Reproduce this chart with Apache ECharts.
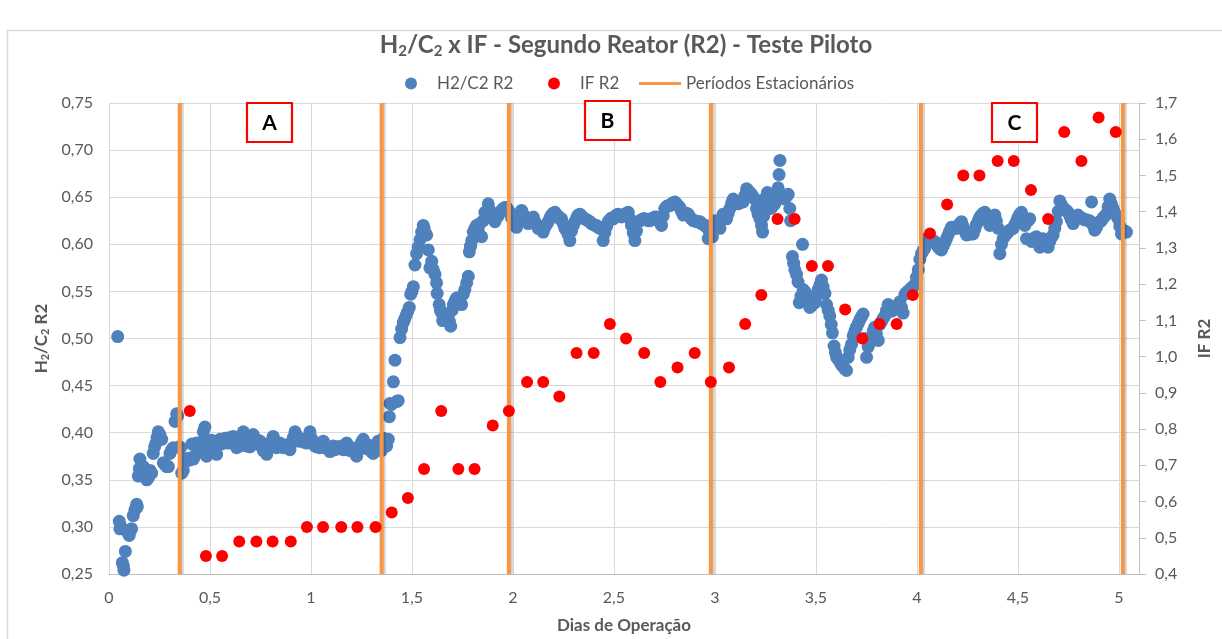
<!DOCTYPE html>
<html><head><meta charset="utf-8">
<script src="https://cdn.jsdelivr.net/npm/echarts@6/dist/echarts.min.js"></script>
<style>html,body{margin:0;padding:0;background:#fff}#c{width:1222px;height:639px}</style>
</head><body><div id="c"></div>
<script>
// H2/C2 R2 (dias, valor)
const h2c2Points = [
[0.043,0.502],[0.051,0.306],[0.054,0.298],[0.060,0.300],[0.066,0.262],[0.071,0.259],[0.074,0.254],[0.081,0.274],[0.090,0.295],[0.100,0.291],
[0.106,0.296],[0.112,0.298],[0.120,0.312],[0.128,0.318],[0.137,0.324],[0.140,0.321],[0.145,0.354],[0.150,0.362],[0.153,0.372],[0.160,0.360],
[0.170,0.364],[0.178,0.355],[0.187,0.350],[0.195,0.352],[0.203,0.360],[0.211,0.357],[0.219,0.378],[0.226,0.385],[0.233,0.389],[0.238,0.395],
[0.244,0.401],[0.252,0.398],[0.261,0.393],[0.269,0.368],[0.277,0.366],[0.286,0.364],[0.294,0.364],[0.302,0.378],[0.310,0.382],[0.318,0.384],
[0.327,0.412],[0.335,0.420],[0.340,0.418],[0.348,0.385],[0.355,0.384],[0.360,0.357],[0.368,0.360],[0.376,0.372],[0.385,0.370],[0.393,0.373],
[0.401,0.371],[0.410,0.388],[0.418,0.372],[0.426,0.376],[0.434,0.389],[0.442,0.385],[0.450,0.383],[0.459,0.390],[0.467,0.401],[0.475,0.406],
[0.479,0.380],[0.483,0.375],[0.490,0.383],[0.500,0.389],[0.508,0.392],[0.516,0.384],[0.524,0.380],[0.533,0.377],[0.541,0.387],[0.550,0.393],
[0.558,0.388],[0.566,0.393],[0.575,0.394],[0.583,0.394],[0.591,0.389],[0.600,0.395],[0.608,0.390],[0.615,0.396],[0.623,0.388],[0.632,0.384],
[0.640,0.390],[0.648,0.386],[0.657,0.395],[0.665,0.401],[0.673,0.393],[0.681,0.386],[0.690,0.389],[0.698,0.385],[0.706,0.396],[0.714,0.398],
[0.722,0.393],[0.731,0.388],[0.739,0.392],[0.748,0.391],[0.756,0.386],[0.764,0.381],[0.773,0.384],[0.781,0.377],[0.789,0.385],[0.797,0.388],
[0.805,0.391],[0.813,0.396],[0.821,0.388],[0.829,0.384],[0.838,0.385],[0.846,0.389],[0.855,0.387],[0.863,0.384],[0.871,0.387],[0.880,0.384],
[0.888,0.387],[0.896,0.382],[0.904,0.390],[0.913,0.395],[0.921,0.401],[0.930,0.397],[0.938,0.391],[0.946,0.393],[0.954,0.392],[0.963,0.390],
[0.971,0.393],[0.979,0.389],[0.987,0.395],[0.995,0.401],[1.003,0.394],[1.011,0.389],[1.019,0.386],[1.028,0.385],[1.036,0.387],[1.044,0.384],
[1.053,0.386],[1.061,0.391],[1.069,0.385],[1.078,0.383],[1.086,0.384],[1.094,0.380],[1.102,0.382],[1.110,0.386],[1.119,0.382],[1.127,0.385],
[1.135,0.384],[1.143,0.383],[1.152,0.386],[1.160,0.382],[1.168,0.384],[1.177,0.389],[1.185,0.385],[1.193,0.381],[1.201,0.384],[1.210,0.383],
[1.218,0.378],[1.226,0.375],[1.234,0.381],[1.242,0.386],[1.251,0.390],[1.259,0.393],[1.267,0.386],[1.275,0.383],[1.284,0.387],[1.292,0.382],
[1.300,0.380],[1.308,0.378],[1.316,0.382],[1.325,0.386],[1.333,0.391],[1.341,0.388],[1.349,0.381],[1.358,0.394],[1.366,0.393],[1.375,0.386],
[1.383,0.393],[1.388,0.417],[1.391,0.431],[1.399,0.430],[1.408,0.454],[1.416,0.477],[1.424,0.433],[1.432,0.434],[1.441,0.501],[1.449,0.510],
[1.457,0.517],[1.463,0.520],[1.470,0.524],[1.478,0.528],[1.487,0.533],[1.494,0.547],[1.500,0.550],[1.507,0.555],[1.515,0.578],[1.523,0.590],
[1.531,0.597],[1.540,0.605],[1.548,0.613],[1.556,0.620],[1.560,0.617],[1.565,0.612],[1.573,0.610],[1.581,0.594],[1.589,0.575],[1.598,0.582],
[1.606,0.573],[1.614,0.568],[1.622,0.559],[1.625,0.548],[1.635,0.536],[1.641,0.530],[1.647,0.527],[1.652,0.519],[1.660,0.523],[1.668,0.520],
[1.680,0.524],[1.686,0.518],[1.692,0.513],[1.699,0.530],[1.705,0.536],[1.713,0.540],[1.721,0.543],[1.729,0.538],[1.738,0.541],[1.746,0.536],
[1.754,0.547],[1.762,0.552],[1.771,0.559],[1.779,0.566],[1.784,0.592],[1.790,0.598],[1.796,0.604],[1.804,0.613],[1.812,0.617],[1.820,0.620],
[1.828,0.614],[1.837,0.622],[1.845,0.608],[1.853,0.625],[1.861,0.634],[1.870,0.630],[1.878,0.643],[1.886,0.636],[1.894,0.630],[1.903,0.628],
[1.911,0.624],[1.919,0.632],[1.927,0.630],[1.936,0.634],[1.944,0.636],[1.952,0.638],[1.960,0.639],[1.969,0.639],[1.977,0.636],[1.985,0.634],
[1.993,0.628],[2.002,0.624],[2.010,0.620],[2.018,0.618],[2.026,0.628],[2.035,0.632],[2.043,0.636],[2.051,0.632],[2.060,0.628],[2.068,0.625],
[2.076,0.622],[2.085,0.626],[2.093,0.628],[2.101,0.629],[2.109,0.624],[2.117,0.621],[2.125,0.617],[2.134,0.619],[2.142,0.615],[2.150,0.613],
[2.158,0.618],[2.167,0.621],[2.175,0.624],[2.183,0.628],[2.191,0.631],[2.200,0.633],[2.208,0.634],[2.216,0.631],[2.224,0.630],[2.233,0.627],
[2.241,0.627],[2.249,0.622],[2.257,0.617],[2.266,0.614],[2.274,0.610],[2.282,0.604],[2.290,0.614],[2.299,0.620],[2.307,0.624],[2.315,0.628],
[2.323,0.631],[2.332,0.632],[2.340,0.630],[2.348,0.628],[2.356,0.627],[2.365,0.626],[2.373,0.625],[2.381,0.624],[2.389,0.622],[2.398,0.621],
[2.406,0.620],[2.414,0.620],[2.422,0.618],[2.431,0.617],[2.439,0.617],[2.447,0.604],[2.455,0.612],[2.464,0.619],[2.472,0.624],[2.480,0.626],
[2.488,0.628],[2.497,0.627],[2.505,0.629],[2.513,0.631],[2.521,0.632],[2.530,0.630],[2.538,0.629],[2.546,0.631],[2.554,0.632],[2.563,0.633],
[2.571,0.634],[2.579,0.627],[2.587,0.620],[2.596,0.612],[2.604,0.604],[2.612,0.614],[2.620,0.624],[2.629,0.625],[2.637,0.626],[2.645,0.627],
[2.653,0.627],[2.661,0.626],[2.670,0.625],[2.678,0.625],[2.686,0.627],[2.694,0.628],[2.703,0.629],[2.711,0.629],[2.719,0.626],[2.728,0.623],
[2.736,0.620],[2.744,0.630],[2.752,0.638],[2.760,0.640],[2.769,0.641],[2.777,0.641],[2.785,0.643],[2.794,0.644],[2.802,0.645],[2.810,0.643],
[2.818,0.641],[2.827,0.639],[2.835,0.635],[2.843,0.631],[2.851,0.632],[2.860,0.633],[2.868,0.632],[2.876,0.629],[2.884,0.627],[2.893,0.625],
[2.901,0.625],[2.909,0.624],[2.917,0.624],[2.926,0.624],[2.934,0.622],[2.942,0.621],[2.950,0.620],[2.959,0.618],[2.967,0.606],[2.975,0.612],
[2.983,0.620],[2.988,0.608],[2.995,0.622],[3.000,0.625],[3.008,0.621],[3.017,0.619],[3.025,0.617],[3.033,0.627],[3.041,0.632],[3.050,0.630],
[3.058,0.627],[3.066,0.633],[3.074,0.638],[3.083,0.644],[3.091,0.648],[3.099,0.645],[3.107,0.644],[3.115,0.643],[3.124,0.645],[3.132,0.645],
[3.140,0.645],[3.149,0.652],[3.157,0.659],[3.165,0.657],[3.173,0.655],[3.182,0.653],[3.190,0.650],[3.198,0.648],[3.206,0.638],[3.214,0.632],
[3.223,0.627],[3.231,0.620],[3.236,0.613],[3.242,0.630],[3.248,0.641],[3.254,0.650],[3.260,0.655],[3.268,0.646],[3.277,0.638],[3.285,0.640],
[3.297,0.643],[3.305,0.650],[3.313,0.660],[3.318,0.674],[3.322,0.689],[3.330,0.653],[3.339,0.650],[3.347,0.648],[3.355,0.651],[3.363,0.653],
[3.371,0.638],[3.375,0.625],[3.384,0.587],[3.390,0.580],[3.396,0.573],[3.404,0.568],[3.412,0.560],[3.418,0.538],[3.426,0.545],[3.434,0.600],
[3.437,0.552],[3.445,0.550],[3.454,0.547],[3.462,0.540],[3.470,0.533],[3.479,0.535],[3.487,0.537],[3.495,0.538],[3.503,0.545],[3.511,0.552],
[3.520,0.557],[3.528,0.562],[3.536,0.555],[3.545,0.548],[3.553,0.536],[3.561,0.530],[3.569,0.524],[3.576,0.515],[3.582,0.506],[3.590,0.492],
[3.597,0.485],[3.603,0.480],[3.611,0.478],[3.619,0.475],[3.627,0.472],[3.635,0.470],[3.643,0.468],[3.652,0.466],[3.660,0.480],[3.668,0.488],
[3.677,0.494],[3.685,0.503],[3.693,0.508],[3.701,0.512],[3.710,0.516],[3.718,0.520],[3.726,0.523],[3.734,0.526],[3.742,0.500],[3.751,0.480],
[3.759,0.491],[3.768,0.496],[3.776,0.501],[3.784,0.508],[3.792,0.512],[3.800,0.505],[3.809,0.498],[3.817,0.515],[3.825,0.518],[3.833,0.521],
[3.842,0.524],[3.850,0.530],[3.858,0.536],[3.866,0.532],[3.875,0.529],[3.883,0.530],[3.891,0.532],[3.899,0.533],[3.907,0.536],[3.916,0.539],
[3.924,0.533],[3.932,0.527],[3.941,0.547],[3.949,0.549],[3.957,0.550],[3.965,0.552],[3.974,0.554],[3.982,0.555],[3.990,0.557],[3.998,0.565],
[4.007,0.573],[4.015,0.584],[4.023,0.590],[4.031,0.593],[4.040,0.596],[4.048,0.606],[4.056,0.606],[4.064,0.605],[4.073,0.604],[4.081,0.603],
[4.089,0.603],[4.097,0.600],[4.106,0.597],[4.114,0.595],[4.122,0.594],[4.130,0.598],[4.139,0.602],[4.147,0.606],[4.155,0.610],[4.163,0.614],
[4.171,0.618],[4.180,0.618],[4.188,0.617],[4.196,0.617],[4.204,0.619],[4.213,0.622],[4.221,0.624],[4.229,0.619],[4.237,0.614],[4.246,0.610],
[4.254,0.611],[4.262,0.611],[4.270,0.611],[4.279,0.611],[4.287,0.616],[4.295,0.621],[4.304,0.625],[4.312,0.629],[4.320,0.631],[4.328,0.633],
[4.337,0.634],[4.345,0.629],[4.353,0.625],[4.361,0.620],[4.370,0.624],[4.378,0.628],[4.386,0.631],[4.394,0.625],[4.403,0.617],[4.411,0.590],
[4.419,0.600],[4.427,0.606],[4.436,0.609],[4.444,0.611],[4.452,0.613],[4.460,0.615],[4.469,0.616],[4.477,0.617],[4.485,0.621],[4.494,0.625],
[4.502,0.629],[4.510,0.632],[4.518,0.634],[4.526,0.627],[4.535,0.620],[4.543,0.606],[4.551,0.625],[4.559,0.627],[4.568,0.603],[4.576,0.605],
[4.584,0.607],[4.592,0.608],[4.600,0.602],[4.609,0.597],[4.617,0.602],[4.625,0.606],[4.633,0.601],[4.641,0.598],[4.650,0.597],[4.658,0.603],
[4.666,0.607],[4.675,0.610],[4.683,0.617],[4.691,0.624],[4.700,0.635],[4.708,0.646],[4.716,0.642],[4.724,0.639],[4.732,0.637],[4.740,0.636],
[4.749,0.634],[4.757,0.630],[4.765,0.626],[4.774,0.622],[4.782,0.626],[4.790,0.629],[4.798,0.631],[4.807,0.629],[4.815,0.628],[4.823,0.627],
[4.831,0.626],[4.840,0.626],[4.848,0.625],[4.856,0.625],[4.865,0.645],[4.873,0.620],[4.881,0.615],[4.889,0.618],[4.898,0.622],[4.906,0.624],
[4.914,0.625],[4.922,0.628],[4.931,0.630],[4.939,0.632],[4.947,0.640],[4.955,0.648],[4.964,0.643],[4.972,0.638],[4.980,0.633],[4.989,0.630],
[4.997,0.627],[5.005,0.619],[5.013,0.611],[5.022,0.613],[5.030,0.614],[5.038,0.613]
];
// IF R2 (dias, valor)
const ifPoints = [
[0.40,0.85],[0.48,0.45],[0.56,0.45],[0.645,0.49],[0.73,0.49],[0.81,0.49],[0.90,0.49],[0.98,0.53],[1.06,0.53],[1.15,0.53],
[1.23,0.53],[1.32,0.53],[1.40,0.57],[1.48,0.61],[1.56,0.69],[1.645,0.85],[1.73,0.69],[1.81,0.69],[1.90,0.81],[1.98,0.85],
[2.07,0.93],[2.15,0.93],[2.23,0.89],[2.315,1.01],[2.40,1.01],[2.48,1.09],[2.56,1.05],[2.65,1.01],[2.73,0.93],[2.815,0.97],
[2.90,1.01],[2.98,0.93],[3.07,0.97],[3.15,1.09],[3.23,1.17],[3.31,1.38],[3.395,1.38],[3.48,1.25],[3.56,1.25],[3.645,1.13],
[3.73,1.05],[3.815,1.09],[3.90,1.09],[3.98,1.17],[4.065,1.34],[4.15,1.42],[4.23,1.50],[4.31,1.50],[4.40,1.54],[4.48,1.54],
[4.565,1.46],[4.65,1.38],[4.73,1.62],[4.815,1.54],[4.90,1.66],[4.985,1.62]
];
// Períodos Estacionários (dias)
const periodDays = [0.35, 1.35, 1.98, 2.98, 4.02, 5.02];
const periodLabels = ['A', 'B', 'C'];
const seriesNames = ['H2/C2 R2', 'IF R2', 'Períodos Estacionários'];
const xMin = 0, xMax = 5.1, xStep = 0.5;
const yMin = 0.25, yMax = 0.75, yStep = 0.05;
const y2Min = 0.4, y2Max = 1.7, y2Step = 0.1;

const FONT = 'Lato';
const GRAY = '#595959';
const periodData = [];
periodDays.forEach(d => { periodData.push([d, yMin], [d, yMax], [d, '-']); });

const labelBoxes = [[247,103],[585,101],[992,103]];
const graphics = [
  {type:'rect', z:-10, silent:true, shape:{x:7.5,y:30.5,width:1400,height:800}, style:{fill:'none', stroke:'#d9d9d9', lineWidth:1.5}}
];
periodLabels.forEach((t, i) => {
  const [bx, by] = labelBoxes[i];
  graphics.push({type:'rect', z:100, shape:{x:bx, y:by, width:45, height:39}, style:{fill:'#ffffff', stroke:'#ff0000', lineWidth:2.2}});
  graphics.push({type:'text', z:101, x:bx+22.5, y:by+20, style:{text:t, fontFamily:FONT, fontWeight:'bold', fontSize:21, fill:'#000', align:'center', verticalAlign:'middle', textAlign:'center', textVerticalAlign:'middle'}});
});

const lineIcon = 'path://M0,0 L0.01,0 M0,4.5 L42,4.5 L42,7.5 L0,7.5 Z M42,12 L41.99,12';
const legendLefts = [405, 548, 639];
const legendIcons = ['circle', 'circle', lineIcon];
const legends = seriesNames.map((n, i) => ({
  left: legendLefts[i], top: 75, itemWidth: 42, itemHeight: 12, itemGap: 0, padding: 0,
  textStyle: {fontFamily: FONT, fontSize: 17, color: GRAY},
  data: [{name: n, icon: legendIcons[i]}]
}));

const chart = echarts.init(document.getElementById('c'), null, {renderer:'canvas'});
chart.setOption({
  animation: false,
  backgroundColor: '#ffffff',
  textStyle: {fontFamily: FONT},
  title: {
    left: 621, top: 27, textAlign: 'center',
    text: '{t|H}{s|2}{t|/C}{s|2}{t| x IF - Segundo Reator (R2) - Teste Piloto}',
    textStyle: {rich: {
      t: {fontFamily: FONT, fontWeight: 'bold', fontSize: 24, color: GRAY},
      s: {fontFamily: FONT, fontWeight: 'bold', fontSize: 15, color: GRAY, padding: [12, 0, 0, 0]}
    }}
  },
  legend: legends,
  grid: {left: 109, right: 83, top: 103, bottom: 60, containLabel: false},
  graphic: graphics,
  xAxis: {
    type: 'value', min: xMin, max: xMax, interval: xStep,
    name: 'Dias de Operação', nameLocation: 'middle', nameGap: 43,
    nameTextStyle: {fontFamily: FONT, fontWeight: 'bold', fontSize: 17, color: GRAY},
    axisLine: {show: true, lineStyle: {color: '#bfbfbf', width: 1}},
    axisTick: {show: false},
    splitLine: {show: true, lineStyle: {color: '#d9d9d9', width: 1}},
    axisLabel: {margin: 16, fontFamily: FONT, fontSize: 16, color: GRAY, showMaxLabel: false,
      formatter: v => String(v).replace('.', ',')}
  },
  yAxis: [{
    type: 'value', min: yMin, max: yMax, interval: yStep, position: 'left',
    name: '{b|H}{sb|2}{b|/C}{sb|2}{b| R2}', nameLocation: 'middle', nameGap: 56,
    nameTextStyle: {rich: {
      b: {fontFamily: FONT, fontWeight: 'bold', fontSize: 17, color: GRAY},
      sb: {fontFamily: FONT, fontWeight: 'bold', fontSize: 11, color: GRAY, padding: [8, 0, 0, 0]}
    }},
    axisLine: {show: false}, axisTick: {show: false},
    splitLine: {show: true, lineStyle: {color: '#d9d9d9', width: 1}},
    axisLabel: {margin: 16, fontFamily: FONT, fontSize: 16, color: GRAY,
      formatter: v => v.toFixed(2).replace('.', ',')}
  }, {
    type: 'value', min: y2Min, max: y2Max, interval: y2Step, position: 'right',
    name: 'IF R2', nameLocation: 'middle', nameGap: 57,
    nameTextStyle: {fontFamily: FONT, fontWeight: 'bold', fontSize: 17, color: GRAY},
    axisLine: {show: true, lineStyle: {color: '#bfbfbf', width: 1}},
    axisTick: {show: true, length: 7, lineStyle: {color: '#bfbfbf'}},
    splitLine: {show: false},
    axisLabel: {margin: 16, fontFamily: FONT, fontSize: 16, color: GRAY,
      formatter: v => v.toFixed(1).replace('.', ',')}
  }],
  series: [
    {name: seriesNames[0], type: 'scatter', yAxisIndex: 0, z: 2, symbol: 'circle', symbolSize: 13,
     itemStyle: {color: '#4F81BD', opacity: 1}, data: h2c2Points},
    {name: seriesNames[2], type: 'line', yAxisIndex: 0, z: 3, symbol: 'none', showSymbol: false,
     connectNulls: false, color: '#F79646',
     lineStyle: {color: '#F79646', width: 4, shadowColor: 'rgba(0,0,0,0.18)', shadowOffsetX: 2, shadowBlur: 1},
     data: periodData},
    {name: seriesNames[1], type: 'scatter', yAxisIndex: 1, z: 4, symbol: 'circle', symbolSize: 12,
     itemStyle: {color: '#FF0000', opacity: 1}, data: ifPoints}
  ]
});
</script>
</body></html>
